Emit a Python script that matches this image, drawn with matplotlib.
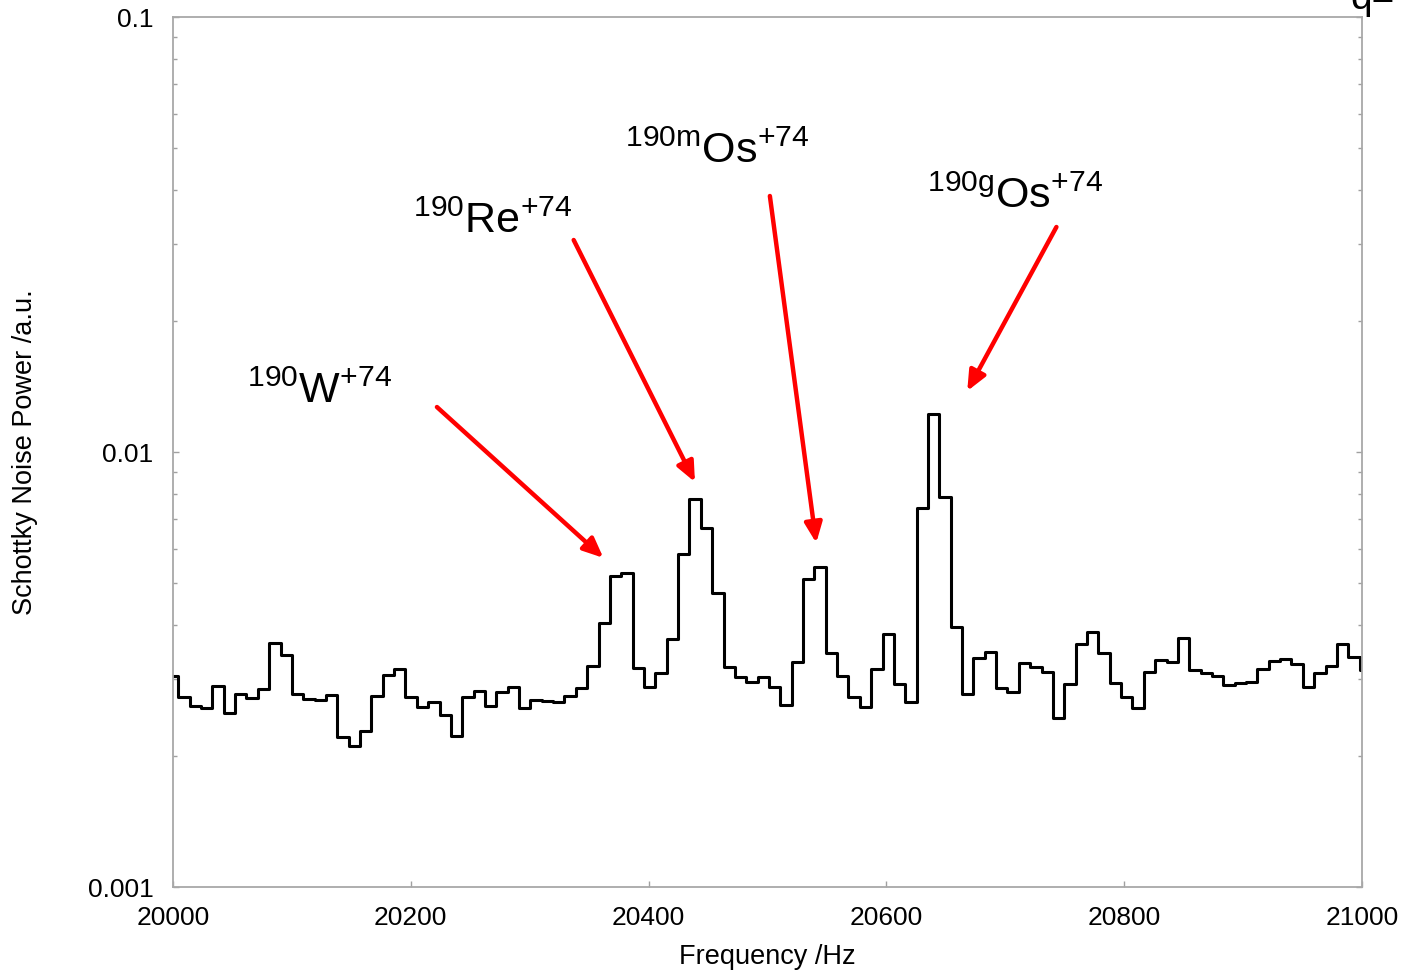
import matplotlib.pyplot as plt
import numpy as np
from matplotlib.ticker import NullFormatter

plt.rcParams["font.family"] = ["Liberation Sans", "DejaVu Sans"]
plt.rcParams["mathtext.fontset"] = "custom"
plt.rcParams["mathtext.rm"] = "Liberation Sans"
plt.rcParams["mathtext.it"] = "Liberation Sans:italic"
plt.rcParams["mathtext.bf"] = "Liberation Sans:bold"

# spectrum bins: first centre and width in Hz
f_first = 19999.7
bin_width = 9.553

power = [
    0.003056, 0.002729, 0.002607, 0.002584, 0.002898, 0.002508, 0.002777, 0.002724, 0.002857, 0.003632,
    0.003409, 0.002777, 0.002705, 0.002686, 0.002767, 0.002209, 0.002109, 0.002284, 0.002748, 0.003072,
    0.003166, 0.002738, 0.002597, 0.002666, 0.002486, 0.002224, 0.002738, 0.002826, 0.002607, 0.002812,
    0.002887, 0.002575, 0.002691, 0.002681, 0.002666, 0.002748, 0.002863, 0.003221, 0.004051, 0.005187,
    0.005279, 0.003182, 0.002878, 0.003099, 0.003710, 0.005827, 0.007786, 0.006677, 0.004749, 0.003199,
    0.003034, 0.002955, 0.003034, 0.002887, 0.002621, 0.003295, 0.005098, 0.005431, 0.003445, 0.003060,
    0.002729, 0.002597, 0.003166, 0.003816, 0.002929, 0.002666, 0.007423, 0.012228, 0.007892, 0.003966,
    0.002777, 0.003366, 0.003463, 0.002863, 0.002812, 0.003278, 0.003209, 0.003125, 0.002442, 0.002925,
    0.003619, 0.003863, 0.003456, 0.002939, 0.002729, 0.002575, 0.003125, 0.003325, 0.003295, 0.003742,
    0.003154, 0.003099, 0.003060, 0.002913, 0.002939, 0.002965, 0.003170, 0.003307, 0.003337, 0.003251,
    0.002878, 0.003099, 0.003221, 0.003619, 0.003373, 0.003154,
]

x_ticks = [20000, 20200, 20400, 20600, 20800, 21000]
y_ticks = [0.001, 0.01, 0.1]
y_tick_labels = ["0.001", "0.01", "0.1"]

ion_labels = [
    r"$^{190}$W$^{+74}$",
    r"$^{190}$Re$^{+74}$",
    r"$^{190\mathrm{m}}$Os$^{+74}$",
    r"$^{190\mathrm{g}}$Os$^{+74}$",
]


def main():
    freq = f_first + bin_width * np.arange(len(power))

    fig = plt.figure(figsize=(14.12, 9.74), dpi=100)
    ax = fig.add_axes([0.1225, 0.0893, 0.8421, 0.8932])

    ax.step(freq, power, where="mid", color="black", lw=2.2)

    ax.set_yscale("log")
    ax.set_xlim(20000, 21000)
    ax.set_ylim(0.001, 0.1)
    ax.set_xticks(x_ticks)
    ax.set_xticklabels([str(t) for t in x_ticks])
    ax.set_yticks(y_ticks)
    ax.set_yticklabels(y_tick_labels)
    ax.yaxis.set_minor_formatter(NullFormatter())

    for s in ax.spines.values():
        s.set_color("#a8a8a8")
        s.set_linewidth(1.3)
    ax.tick_params(which="both", direction="in", color="#a0a0a0", labelsize=19,
                   right=True, top=False)
    ax.tick_params(which="major", length=4, width=1, pad=14)
    ax.tick_params(which="minor", length=3, width=1)

    ax.set_xlabel("Frequency /Hz", fontsize=19.5)
    ax.set_ylabel("Schottky Noise Power /a.u.", fontsize=19.5)
    ax.xaxis.set_label_coords(0.5, -0.066)
    ax.yaxis.set_label_coords(-0.1135, 0.5)

    # label (x, y) and arrow tail -> tip, in data coordinates
    label_pos = [(20062, 0.01296), (20202, 0.03187), (20380, 0.04617), (20634, 0.03638)]
    arrow_tail = [(20222, 0.01269), (20337, 0.03072), (20502, 0.03878), (20743, 0.03291)]
    arrow_tip = [(20362, 0.00571), (20439, 0.00853), (20541, 0.00618), (20668, 0.01381)]

    for lab, pos, tail, tip in zip(ion_labels, label_pos, arrow_tail, arrow_tip):
        ax.text(pos[0], pos[1], lab, fontsize=31, ha="left", va="baseline")
        ax.annotate("", xy=tip, xytext=tail,
                    arrowprops=dict(arrowstyle="-|>,head_length=0.5,head_width=0.22",
                                    color="#ff0000", lw=3.2, mutation_scale=24,
                                    shrinkA=0, shrinkB=0))

    # partly visible text at the top right corner, cut off as in the original
    fig.text(1350 / 1412, 1 - 9 / 974, "q=", fontsize=28, ha="left", va="baseline")

    plt.savefig("out.png", dpi=100)


if __name__ == "__main__":
    main()
